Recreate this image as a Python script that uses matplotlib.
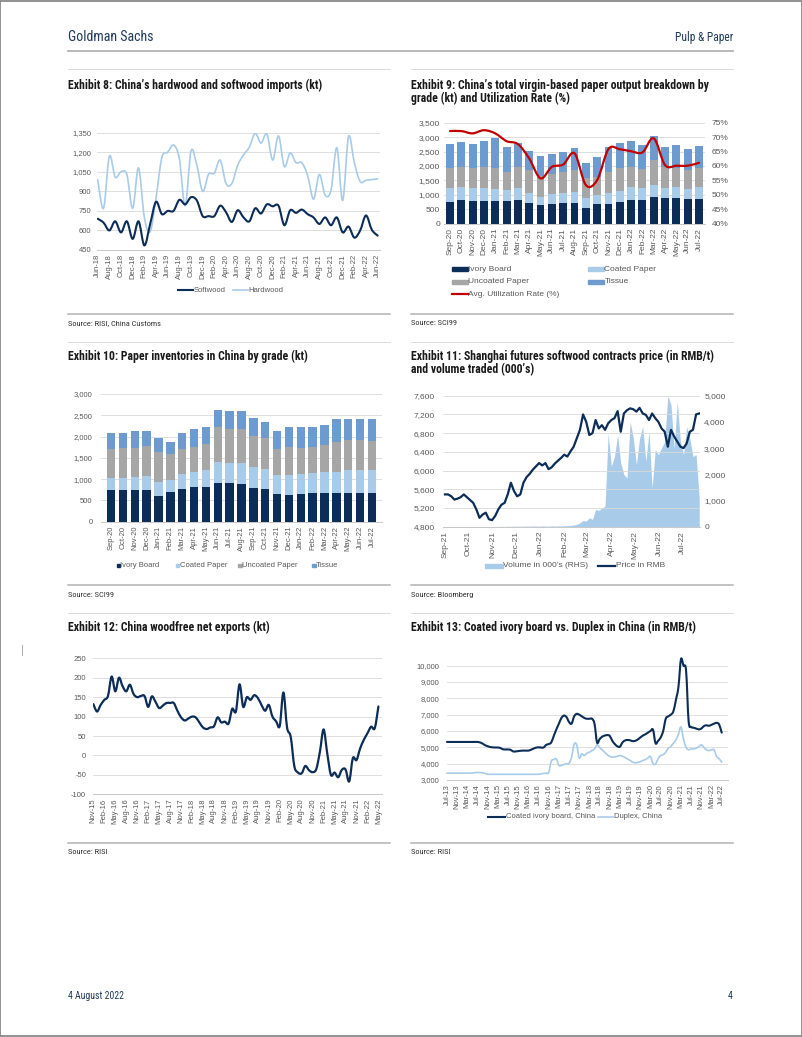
import matplotlib

matplotlib.use("Agg")
import matplotlib.dates as mdates
import matplotlib.pyplot as plt
import numpy as np
import pandas as pd
from matplotlib import font_manager as fm
from matplotlib.lines import Line2D
from matplotlib.patches import PathPatch, Rectangle
from matplotlib.path import Path
from matplotlib.ticker import FuncFormatter

# ---------------- data ----------------
# Exhibit 8: monthly imports (kt), Jun-18 .. Jun-22
ex8_months = pd.date_range("2018-06-01", periods=49, freq="MS").strftime("%b-%y").tolist()
softwood = [690, 660, 600, 670, 585, 670, 535, 670, 485, 650, 820, 725, 750, 750, 835, 800,
            855, 830, 710, 710, 710, 790, 740, 665, 755, 700, 670, 770, 730, 800, 785, 790,
            640, 755, 735, 760, 725, 700, 650, 700, 640, 700, 585, 630, 545, 600, 715, 605, 560]
hardwood = [990, 770, 1170, 1010, 1050, 1030, 770, 1080, 700, 590, 850, 1160, 1200, 1255,
            1150, 790, 1210, 1100, 900, 1030, 1040, 1140, 960, 960, 1100, 1180, 1240, 1345,
            1270, 1340, 1140, 1325, 1090, 1195, 1120, 1120, 1020, 840, 1030, 870, 910, 1235,
            830, 1320, 1120, 975, 985, 990, 995]

# Exhibit 9: output by grade (kt), Sep-20 .. Jul-22, plus utilization (%)
ex9_months = pd.date_range("2020-09-01", periods=23, freq="MS").strftime("%b-%y").tolist()
out_ivory = [762, 820, 785, 797, 785, 785, 808, 716, 647, 693, 705, 705, 543, 693, 693, 762,
             832, 832, 912, 878, 900, 855, 855]
out_coated = [462, 462, 439, 450, 405, 382, 439, 358, 288, 335, 369, 392, 335, 300, 381, 381,
              427, 392, 428, 346, 359, 335, 404]
out_uncoated = [693, 693, 693, 705, 750, 633, 728, 786, 717, 682, 726, 763, 692, 636, 726, 774,
                716, 659, 866, 751, 658, 670, 658]
out_tissue = [843, 865, 843, 912, 1040, 845, 808, 658, 693, 715, 670, 750, 544, 693, 868, 889,
              901, 843, 832, 693, 797, 727, 763]
utilization = [72.1, 72.1, 71.3, 72.4, 71.3, 68.6, 67.6, 62.6, 55.7, 59.7, 60.5, 64.4, 53.4,
               55.1, 65.9, 65.8, 65.1, 64.7, 69.6, 60.3, 60.1, 60.1, 61.1]

# Exhibit 10: inventories by grade (kt), Sep-20 .. Jul-22
inv_ivory = [736, 736, 744, 744, 611, 689, 775, 807, 807, 916, 901, 877, 791, 768, 650, 634,
             642, 666, 681, 674, 681, 674, 681]
inv_coated = [298, 298, 306, 337, 329, 290, 345, 368, 399, 478, 485, 494, 501, 462, 454, 470,
              486, 485, 494, 501, 533, 540, 533]
inv_uncoated = [674, 697, 689, 705, 705, 611, 588, 587, 611, 823, 792, 799, 721, 728, 596, 658,
                611, 611, 627, 705, 705, 705, 682]
inv_tissue = [368, 360, 392, 345, 313, 290, 368, 416, 415, 407, 422, 423, 415, 376, 438, 470,
              478, 455, 478, 525, 486, 494, 509]

# Exhibit 11: softwood futures, sampled every 4 days from 1 Sep 2021
fut_dates = pd.date_range("2021-09-01", periods=82, freq="4D")
fut_price = [5490, 5490, 5450, 5380, 5400, 5430, 5490, 5430, 5370, 5310,
             5170, 4990, 5060, 5100, 4960, 4940, 5030, 5170, 5270, 5310,
             5490, 5740, 5560, 5450, 5490, 5740, 5860, 5930, 6020, 6090,
             6160, 6110, 6160, 6030, 6070, 6150, 6210, 6270, 6340, 6300,
             6410, 6510, 6690, 6870, 7200, 7040, 6760, 6800, 7080, 6900,
             6970, 6870, 7010, 7080, 7120, 7270, 6830, 7220, 7290, 7330,
             7310, 7260, 7340, 7220, 7190, 7080, 7220, 7120, 7040, 6900,
             6830, 6510, 6870, 6730, 6620, 6510, 6480, 6580, 6830, 6870,
             7200, 7220]
fut_volume = [0, 0, 0, 0, 0, 0, 0, 0, 0, 0, 0, 0, 0, 0, 0, 5,
              10, 10, 15, 10, 20, 15, 20, 15, 20, 20,
              25, 20, 30, 25, 20, 30, 25, 20, 30, 25, 30, 30, 35, 40, 50,
              63, 90, 150, 240, 215, 340, 280, 660, 620, 720, 785,
              3570, 2300, 2680, 3500, 2430, 1990, 1860, 4010, 3380, 2370,
              3380, 3820, 2490, 3630, 1480, 2940, 2750, 3000, 3250, 5000,
              4650, 3000, 4770, 3250, 2750, 3820, 3380, 2680, 2750, 1100]

# Exhibit 12: woodfree net exports (kt), Nov-15 .. May-22
ex12_months = pd.date_range("2015-11-01", periods=79, freq="MS").strftime("%b-%y").tolist()
net_exports = [132, 113,
               130, 143, 153, 203, 165, 200, 178, 165, 182, 158, 150, 153,
               153, 125, 152, 138, 122, 128, 135, 135, 135, 115, 98, 90,
               95, 100, 98, 85, 72, 68, 72, 75, 98, 85, 87, 82,
               120, 113, 183, 125, 150, 143, 155, 148, 130, 115, 130, 100,
               88, 76, 162, 72, 48, -28, -44, -46, -27, -38, -43, -35,
               10, 67, 5, -50, -44, -56, -37, -36, -67, -7, -12, 18,
               40, 57, 74, 70, 126]

# Exhibit 13: board prices (RMB/t), Jul-13 .. Jul-22
ex13_months = pd.date_range("2013-07-01", periods=109, freq="MS").strftime("%b-%y").tolist()
ivory_price = [5330, 5330, 5330, 5330, 5330, 5330,
               5330, 5330, 5330, 5330, 5330, 5330, 5330, 5300, 5230, 5130, 5070, 5020,
               5000, 4990, 4990, 4960, 4880, 4870, 4870, 4850, 4750, 4750, 4770, 4790,
               4800, 4800, 4800, 4850, 4920, 4980, 5000, 4990, 4990, 5150, 5200, 5300,
               5700, 6100, 6450, 6800, 6950, 6850, 6550, 6450, 6900, 7050, 7000, 6900,
               6800, 6750, 6750, 6750, 6450, 5300, 5500, 5650, 5720, 5750, 5700, 5400,
               5200, 5060, 5040, 5300, 5420, 5450, 5430, 5380, 5400, 5480, 5600, 5720,
               5800, 5900, 6000, 6080, 5250, 5400, 5600, 6000, 6750, 6900, 7000, 7200,
               7900, 8700, 10400, 10000, 9700, 6600, 6250, 6200, 6150, 6100, 6150, 6300,
               6350, 6320, 6380, 6450, 6500, 6400, 5900]
duplex_price = [3420, 3420, 3420, 3420, 3420, 3420,
                3420, 3420, 3420, 3420, 3430, 3450, 3460, 3450, 3440, 3400, 3350, 3350,
                3350, 3350, 3350, 3350, 3350, 3350, 3350, 3350, 3350, 3350, 3350, 3350,
                3350, 3350, 3350, 3350, 3350, 3350, 3350, 3380, 3400, 3420, 3450, 4150,
                4250, 4300, 3900, 3900, 3950, 4000, 4020, 4400, 5200, 5150, 4350, 4600,
                4500, 4650, 4700, 4800, 4900, 5150, 5000, 4850, 4700, 4550, 4450, 4400,
                4420, 4450, 4500, 4450, 4380, 4280, 4200, 4100, 4050, 4080, 4120, 4200,
                4250, 4350, 4450, 4000, 3980, 4300, 4500, 4550, 4700, 4950, 5050, 5250,
                5450, 5800, 6250, 5500, 5000, 4850, 4900, 4900, 4950, 5050, 5150, 5000,
                4850, 4800, 4850, 4850, 4450, 4300, 4100]

# ---------------- style ----------------
NAVY = "#0c2d57"
LIGHT = "#a9cbea"
GREY_BAR = "#a6a6a6"
MID_BLUE = "#6e9bcf"
RED = "#c00000"
TICK = "#595959"
GRID = "#d9d9d9"

available = {f.name for f in fm.fontManager.ttflist}
NARROW = next((n for n in ["Liberation Sans Narrow", "Roboto Condensed", "Open Sans Condensed"]
               if n in available), "Liberation Sans")
plt.rcParams["font.family"] = ["Liberation Sans", "DejaVu Sans"]
plt.rcParams["axes.unicode_minus"] = False

W, H = 802, 1037
fig = plt.figure(figsize=(W / 100, H / 100), dpi=100)


def fx(x):
    return x / W


def fy(y):
    return 1 - y / H


def px_axes(l, t, r, b):
    return fig.add_axes([fx(l), fy(b), (r - l) / W, (b - t) / H])


def style(ax, fs=5.5, ypad=4):
    for s in ["top", "right", "left"]:
        ax.spines[s].set_visible(False)
    ax.spines["bottom"].set_color("#c8c8c8")
    ax.spines["bottom"].set_linewidth(0.7)
    ax.grid(axis="y", color=GRID, lw=0.6)
    ax.set_axisbelow(True)
    ax.tick_params(axis="both", length=0, labelsize=fs, colors=TICK)
    ax.tick_params(axis="y", pad=ypad)
    ax.tick_params(axis="x", pad=3, labelrotation=90)


def comma(ax):
    ax.yaxis.set_major_formatter(FuncFormatter(lambda v, p: f"{v:,.0f}"))


def smooth(ax, x, y, color, lw, clip=True, z=3):
    # Excel-style smoothed line: cubic Bezier segments through the points
    pts = np.column_stack([np.asarray(x, float), np.asarray(y, float)])
    n = len(pts)
    verts, codes = [pts[0]], [Path.MOVETO]
    for i in range(n - 1):
        p0 = pts[max(i - 1, 0)]
        p1, p2 = pts[i], pts[i + 1]
        p3 = pts[min(i + 2, n - 1)]
        verts += [p1 + (p2 - p0) / 6, p2 - (p3 - p1) / 6, p2]
        codes += [Path.CURVE4] * 3
    patch = PathPatch(Path(verts, codes), fill=False, edgecolor=color, lw=lw,
                      capstyle="round", joinstyle="round", zorder=z)
    patch.set_clip_on(clip)
    ax.add_patch(patch)


def leg_line(x0, x1, y, color, lw, label, fs=5.5):
    fig.add_artist(Line2D([fx(x0), fx(x1)], [fy(y), fy(y)], color=color, lw=lw,
                          transform=fig.transFigure))
    fig.text(fx(x1 + 0.5), fy(y), label, fontsize=fs, color=TICK, va="center", ha="left")


def leg_box(x0, x1, y, h, color, label, fs=5.5):
    fig.add_artist(Rectangle((fx(x0), fy(y + h / 2)), (x1 - x0) / W, h / H, color=color,
                             transform=fig.transFigure))
    fig.text(fx(x1 + 0.5), fy(y), label, fontsize=fs, color=TICK, va="center", ha="left")


def hline(x0, x1, y, color, lw):
    fig.add_artist(Line2D([fx(x0), fx(x1)], [fy(y), fy(y)], color=color, lw=lw,
                          transform=fig.transFigure))


def title(x, y, text):
    fig.text(fx(x), fy(y), text, family=NARROW, fontweight="bold", fontsize=8.5,
             color="#1a1a1a", va="center", ha="left")


def source(x, y, text):
    fig.text(fx(x), fy(y), text, family=NARROW, fontsize=6, color="#333333",
             va="center", ha="left")


# ---------------- page furniture ----------------
fig.add_artist(Rectangle((0.0006, 0.0005), 0.9988, 0.999, fill=False, edgecolor="#7f7f7f",
                         lw=1.2, transform=fig.transFigure))
fig.text(fx(68), fy(37), "Goldman Sachs", family=NARROW, fontsize=10, color="#1f3a5c",
         va="center", ha="left")
fig.text(fx(733), fy(38), "Pulp & Paper", family=NARROW, fontsize=8.3, color="#1f3a5c",
         va="center", ha="right")
hline(68, 733, 51, "#b3b3b3", 1.3)
fig.text(fx(68), fy(996), "4 August 2022", family=NARROW, fontsize=7, color="#1f3a5c",
         va="center", ha="left")
fig.text(fx(733), fy(996), "4", family=NARROW, fontsize=7, color="#1f3a5c",
         va="center", ha="right")
fig.add_artist(Line2D([fx(22), fx(22)], [fy(645), fy(655)], color="#9a9a9a", lw=0.6,
                      transform=fig.transFigure))

for xl, xr in [(68, 390), (411, 733)]:
    for yt in (69, 342, 613):
        hline(xl, xr, yt, "#d6d6d6", 0.6)
    for yb in (314, 585, 843):
        hline(xl, xr, yb, "#b3b3b3", 1.1)

title(68, 85, "Exhibit 8: China\u2019s hardwood and softwood imports (kt)")
title(411, 85, "Exhibit 9: China\u2019s total virgin-based paper output breakdown by")
title(411, 98.5, "grade (kt) and Utilization Rate (%)")
title(68, 356, "Exhibit 10: Paper inventories in China by grade (kt)")
title(411, 356, "Exhibit 11: Shanghai futures softwood contracts price (in RMB/t)")
title(411, 370, "and volume traded (000\u2019s)")
title(68, 627, "Exhibit 12: China woodfree net exports (kt)")
title(411, 627, "Exhibit 13: Coated ivory board vs. Duplex in China (in RMB/t)")
source(68, 323, "Source: RISI, China Customs")
source(411, 323, "Source: SCI99")
source(68, 595, "Source: SCI99")
source(411, 595, "Source: Bloomberg")
source(68, 852, "Source: RISI")
source(411, 852, "Source: RISI")

# ---------------- Exhibit 8 ----------------
ax = px_axes(96.7, 132.7, 380, 250)
style(ax)
x8 = np.arange(len(ex8_months))
smooth(ax, x8, hardwood, LIGHT, 1.2)
smooth(ax, x8, softwood, NAVY, 1.5)
ax.set_xlim(-0.17, 48.4)
ax.set_ylim(450, 1350)
ax.set_yticks(np.arange(450, 1351, 150))
comma(ax)
ax.set_xticks(x8[::2])
ax.set_xticklabels(ex8_months[::2])
leg_line(178, 193, 290, NAVY, 1.5, "Softwood")
leg_line(233, 248, 290, LIGHT, 1.2, "Hardwood")

# ---------------- Exhibit 9 ----------------
ax = px_axes(444.3, 122.7, 704.7, 223.7)
style(ax, fs=6, ypad=3)
x9 = np.arange(len(ex9_months))
bottom = np.zeros(len(x9))
for vals, col in [(out_ivory, NAVY), (out_coated, LIGHT), (out_uncoated, GREY_BAR),
                  (out_tissue, MID_BLUE)]:
    ax.bar(x9, vals, width=0.7, bottom=bottom, color=col, zorder=2)
    bottom += np.array(vals)
ax.set_xlim(-0.5, 22.5)
ax.set_ylim(0, 3500)
ax.set_yticks(np.arange(0, 3501, 500))
comma(ax)
ax.set_xticks(x9)
ax.set_xticklabels(ex9_months)
ax2 = ax.twinx()
for s in ax2.spines.values():
    s.set_visible(False)
smooth(ax2, x9, utilization, RED, 1.6)
ax2.set_ylim(40, 75)
ax2.set_yticks(np.arange(40, 76, 5))
ax2.yaxis.set_major_formatter(FuncFormatter(lambda v, p: f"{v:.0f}%"))
ax2.tick_params(length=0, labelsize=6, colors=TICK, pad=5)
leg_box(452, 468, 269.3, 4, NAVY, "Ivory Board", fs=6)
leg_box(588, 604, 269.3, 4, LIGHT, "Coated Paper", fs=6)
leg_box(452, 468, 281.7, 4, GREY_BAR, "Uncoated Paper", fs=6)
leg_box(588, 604, 281.7, 4, MID_BLUE, "Tissue", fs=6)
leg_line(452, 468, 294, RED, 1.6, "Avg. Utilization Rate (%)", fs=6)

# ---------------- Exhibit 10 ----------------
ax = px_axes(101, 394, 382, 521.7)
style(ax, ypad=6)
x10 = np.arange(len(ex9_months))
bottom = np.zeros(len(x10))
for vals, col in [(inv_ivory, NAVY), (inv_coated, LIGHT), (inv_uncoated, GREY_BAR),
                  (inv_tissue, MID_BLUE)]:
    ax.bar(x10, vals, width=0.72, bottom=bottom, color=col, zorder=2)
    bottom += np.array(vals)
ax.set_xlim(-0.85, 22.85)
ax.set_ylim(0, 3000)
ax.set_yticks(np.arange(0, 3001, 500))
comma(ax)
ax.set_xticks(x10)
ax.set_xticklabels(ex9_months)
for xm, col, lab in [(116.5, NAVY, "Ivory Board"), (176, LIGHT, "Coated Paper"),
                     (238.3, GREY_BAR, "Uncoated Paper"), (312.3, MID_BLUE, "Tissue")]:
    leg_box(xm, xm + 3.4, 565.3, 3.4, col, lab)

# ---------------- Exhibit 11 ----------------
ax = px_axes(443, 395.7, 700, 526.7)
style(ax, fs=6, ypad=6)
start = pd.Timestamp("2021-09-01")
ax.set_xlim(start - pd.Timedelta(days=2.5), start + pd.Timedelta(days=325))
ax.xaxis.set_major_locator(mdates.MonthLocator())
ax.xaxis.set_major_formatter(mdates.DateFormatter("%b-%y"))
ax.set_ylim(4800, 7600)
ax.set_yticks(np.arange(4800, 7601, 400))
comma(ax)
ax2 = ax.twinx()
for s in ax2.spines.values():
    s.set_visible(False)
ax2.fill_between(fut_dates, 0, fut_volume, color=LIGHT, lw=0, zorder=1)
ax2.set_ylim(0, 5000)
ax2.set_yticks(np.arange(0, 5001, 1000))
comma(ax2)
ax2.tick_params(length=0, labelsize=6, colors=TICK, pad=3)
ax.set_zorder(ax2.get_zorder() + 1)
ax.patch.set_visible(False)
ax2.grid(False)
ax.plot(fut_dates, fut_price, color=NAVY, lw=1.6, zorder=3)
leg_box(485, 503, 565.7, 4, LIGHT, "Volume in 000\u2019s (RHS)", fs=6)
leg_line(598, 615, 565.7, NAVY, 1.6, "Price in RMB", fs=6)

# ---------------- Exhibit 12 ----------------
ax = px_axes(93, 658.3, 381.7, 794.3)
style(ax, ypad=5)
x12 = np.arange(len(ex12_months))
smooth(ax, x12, net_exports, NAVY, 1.6)
ax.set_xlim(-0.1, 78.9)
ax.set_ylim(-100, 250)
ax.set_yticks(np.arange(-100, 251, 50))
ax.set_xticks(x12[::3])
ax.set_xticklabels(ex12_months[::3])

# ---------------- Exhibit 13 ----------------
ax = px_axes(446.7, 665.7, 728.3, 780)
style(ax, ypad=5)
x13 = np.arange(len(ex13_months))
smooth(ax, x13, duplex_price, LIGHT, 1.2, clip=False)
smooth(ax, x13, ivory_price, NAVY, 1.5, clip=False)
ax.set_xlim(-0.1, 110.6)
ax.set_ylim(3000, 10000)
ax.set_yticks(np.arange(3000, 10001, 1000))
comma(ax)
ax.set_xticks(x13[::4])
ax.set_xticklabels(ex13_months[::4])
leg_line(488, 505, 816.7, NAVY, 1.5, "Coated ivory board, China")
leg_line(598, 613, 816.7, LIGHT, 1.2, "Duplex, China")

fig.savefig("out.png", dpi=100)
